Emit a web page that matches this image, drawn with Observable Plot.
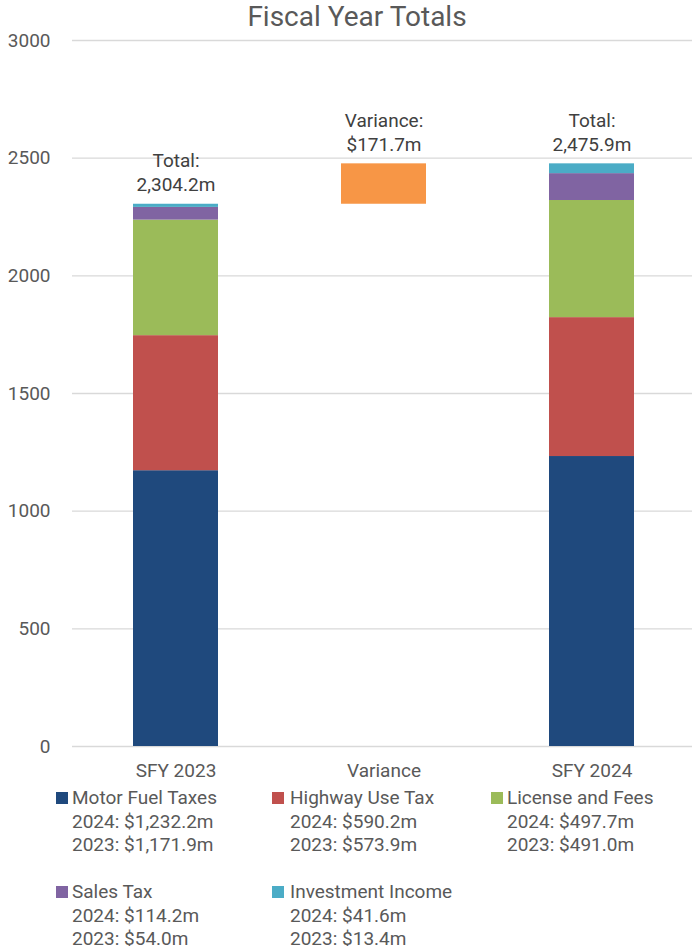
<!DOCTYPE html>
<html><head><meta charset="utf-8">
<script src="https://cdn.jsdelivr.net/npm/d3@7"></script>
<script src="https://cdn.jsdelivr.net/npm/@observablehq/plot@0.6"></script>
<style>
body{margin:0;background:#fff;font-family:Roboto,"Noto Sans",sans-serif;overflow:hidden}
#wrap{width:692px;position:relative;}
#title{height:32px;line-height:34px;text-align:center;font-size:28px;color:#595959;padding-left:22px;box-sizing:border-box;white-space:nowrap}
#chart svg{display:block}
#legend{position:relative;width:692px;height:160px;font-size:19px;color:#595959}
.item{position:absolute;line-height:23.5px;white-space:nowrap}
.sw{position:absolute;width:12px;height:12px}
</style></head>
<body><div id="wrap"><div id="title">Fiscal Year Totals</div><div id="chart"></div><div id="legend"></div></div>
<script>
const categories = ["SFY 2023", "Variance", "SFY 2024"];
const series = ["Motor Fuel Taxes", "Highway Use Tax", "License and Fees", "Sales Tax", "Investment Income"];
const values2023 = [1171.9, 573.9, 491.0, 54.0, 13.4];
const values2024 = [1232.2, 590.2, 497.7, 114.2, 41.6];
const colors = ["#1F497D", "#C0504D", "#9BBB59", "#8064A2", "#4BACC6"];
const varianceColor = "#F79646";
const yTicks = [0, 500, 1000, 1500, 2000, 2500, 3000];

const total2023 = d3.sum(values2023);
const total2024 = d3.sum(values2024);
const variance = total2024 - total2023;
const f1 = d3.format(",.1f");

const rows = [];
series.forEach((s, i) => {
  rows.push({cat: "SFY 2023", series: s, value: values2023[i]});
});
series.forEach((s, i) => {
  rows.push({cat: "SFY 2024", series: s, value: values2024[i]});
});
const varianceRow = [{cat: "Variance", y1: total2023, y2: total2024}];
const labels = [
  {cat: "SFY 2023", y: total2023, text: "Total:\n" + f1(total2023) + "m"},
  {cat: "Variance", y: total2024, text: "Variance:\n$" + f1(variance) + "m"},
  {cat: "SFY 2024", y: total2024, text: "Total:\n" + f1(total2024) + "m"}
];

const chart = Plot.plot({
  width: 692,
  height: 754,
  marginTop: 8,
  marginBottom: 40,
  marginLeft: 72,
  marginRight: 0,
  style: {fontFamily: "Roboto, 'Noto Sans', sans-serif", fontSize: "19px", color: "#595959", background: "#fff", overflow: "visible"},
  x: {domain: categories, range: [72, 696], paddingInner: 0.59, paddingOuter: 0.295, label: null, tickSize: 0, tickPadding: 17},
  y: {domain: [0, 3000], ticks: yTicks, tickFormat: d3.format("d"), label: null, tickSize: 0, tickPadding: 22},
  color: {domain: series, range: colors},
  marks: [
    Plot.ruleY(yTicks, {stroke: "#d9d9d9", strokeWidth: 1.3}),
    Plot.barY(rows, {x: "cat", y: "value", fill: "series", order: series, inset: 0}),
    Plot.barY(varianceRow, {x: "cat", y1: "y1", y2: "y2", fill: varianceColor, inset: 0}),
    Plot.text(labels, {x: "cat", y: "y", text: "text", lineAnchor: "bottom", dy: -13, lineHeight: 1.263, fontSize: 19, fill: "#404040"})
  ]
});
document.getElementById("chart").appendChild(chart);

// Legend
const legend = document.getElementById("legend");
const pos = [
  {sw: 56, tx: 72, top: 0},
  {sw: 272, tx: 290, top: 0},
  {sw: 491, tx: 507, top: 0},
  {sw: 56, tx: 72, top: 94},
  {sw: 272, tx: 290, top: 94}
];
series.forEach((s, i) => {
  const p = pos[i];
  const sw = document.createElement("div");
  sw.className = "sw";
  sw.style.left = p.sw + "px";
  sw.style.top = (p.top + 6) + "px";
  sw.style.background = colors[i];
  legend.appendChild(sw);
  const it = document.createElement("div");
  it.className = "item";
  it.style.left = p.tx + "px";
  it.style.top = p.top + "px";
  it.innerHTML = s + "<br>2024: $" + f1(values2024[i]) + "m<br>2023: $" + f1(values2023[i]) + "m";
  legend.appendChild(it);
});
</script></body></html>
